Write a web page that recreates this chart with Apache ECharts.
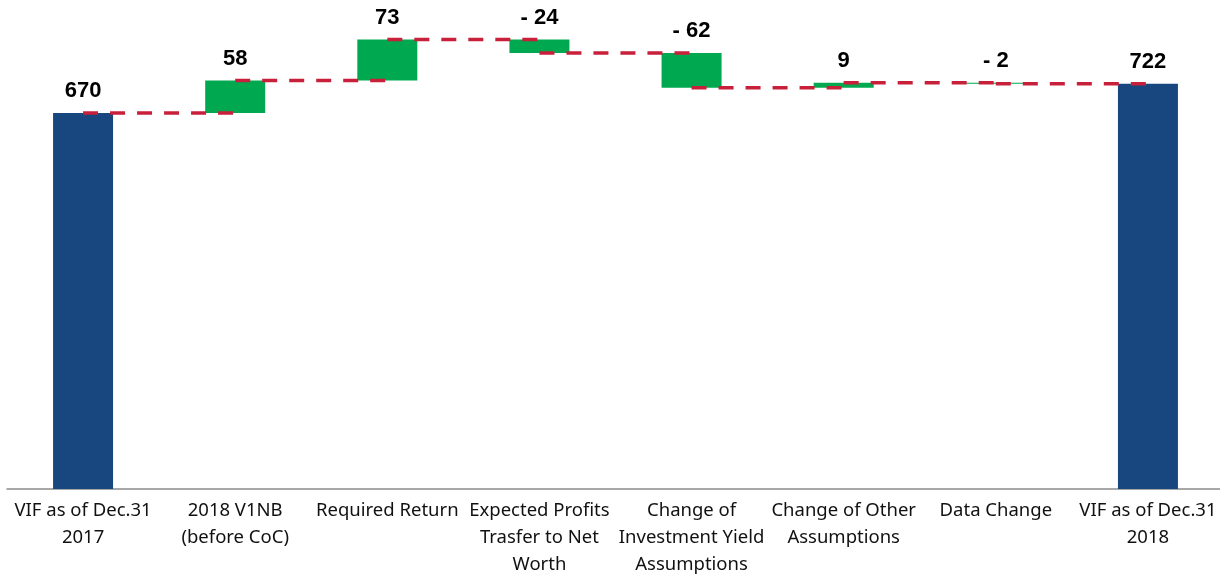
<!DOCTYPE html>
<html>
<head>
<meta charset="utf-8">
<script src="https://cdn.jsdelivr.net/npm/echarts@6/dist/echarts.min.js"></script>
<style>
  html, body { margin: 0; padding: 0; background: #fff; overflow: hidden; }
  #chart { width: 1220px; height: 575px; }
</style>
</head>
<body>
<div id="chart"></div>
<script>
// VIF movement walk, 2017 -> 2018
const categories = [
  'VIF as of Dec.31\n2017',
  '2018 V1NB\n(before CoC)',
  'Required Return',
  'Expected Profits\nTrasfer to Net\nWorth',
  'Change of\nInvestment Yield\nAssumptions',
  'Change of Other\nAssumptions',
  'Data Change',
  'VIF as of Dec.31\n2018'
];
const values = [670, 58, 73, -24, -62, 9, -2, 722];
const isTotal = [true, false, false, false, false, false, false, true];

// Derive floating bases and running levels for the waterfall
const base = [];
const height = [];
const level = [];
let running = 0;
values.forEach((v, i) => {
  if (isTotal[i]) {
    base.push(0);
    height.push(v);
    running = v;
  } else {
    base.push(v >= 0 ? running : running + v);
    height.push(Math.abs(v));
    running += v;
  }
  level.push(running);
});

const NAVY = '#17477E';
const GREEN = '#00A84F';
const RED = '#C8203B';

const fmt = v => (v < 0 ? '- ' + Math.abs(v) : String(v));

const chart = echarts.init(document.getElementById('chart'));
chart.setOption({
  animation: false,
  grid: {
    left: 7, right: -4, top: 12, bottom: 86,
    containLabel: false,
    outerBoundsMode: 'none'
  },
  xAxis: {
    type: 'category',
    data: categories,
    axisTick: { show: false },
    axisLine: { lineStyle: { color: '#8c8c8c', width: 1.5 } },
    axisLabel: {
      interval: 0,
      color: '#111',
      fontFamily: 'Noto Sans',
      fontSize: 18.5,
      lineHeight: 27,
      margin: 8
    }
  },
  yAxis: {
    type: 'value',
    min: 0,
    max: 850,
    show: false,
    splitLine: { show: false }
  },
  series: [
    {
      type: 'bar',
      stack: 'w',
      barWidth: 60,
      itemStyle: { color: 'transparent' },
      data: base,
      silent: true
    },
    {
      type: 'bar',
      stack: 'w',
      barWidth: 60,
      data: height.map((h, i) => ({
        value: h,
        itemStyle: { color: isTotal[i] ? NAVY : GREEN }
      })),
      label: {
        show: true,
        position: 'top',
        distance: 11,
        color: '#000',
        fontFamily: 'Liberation Sans',
        fontWeight: 'bold',
        fontSize: 22,
        formatter: p => fmt(values[p.dataIndex])
      }
    },
    {
      // dashed connectors between consecutive bar centres at the running level
      type: 'custom',
      z: 5,
      data: level.slice(0, level.length - 1).map((l, i) => [i, l]),
      renderItem: (params, api) => {
        const i = api.value(0);
        const l = api.value(1);
        const p1 = api.coord([i, l]);
        const p2 = api.coord([i + 1, l]);
        return {
          type: 'line',
          shape: { x1: p1[0], y1: p1[1], x2: p2[0], y2: p2[1] },
          style: { stroke: RED, lineWidth: 3.5, lineDash: [15, 12] }
        };
      }
    }
  ]
});
</script>
</body>
</html>
